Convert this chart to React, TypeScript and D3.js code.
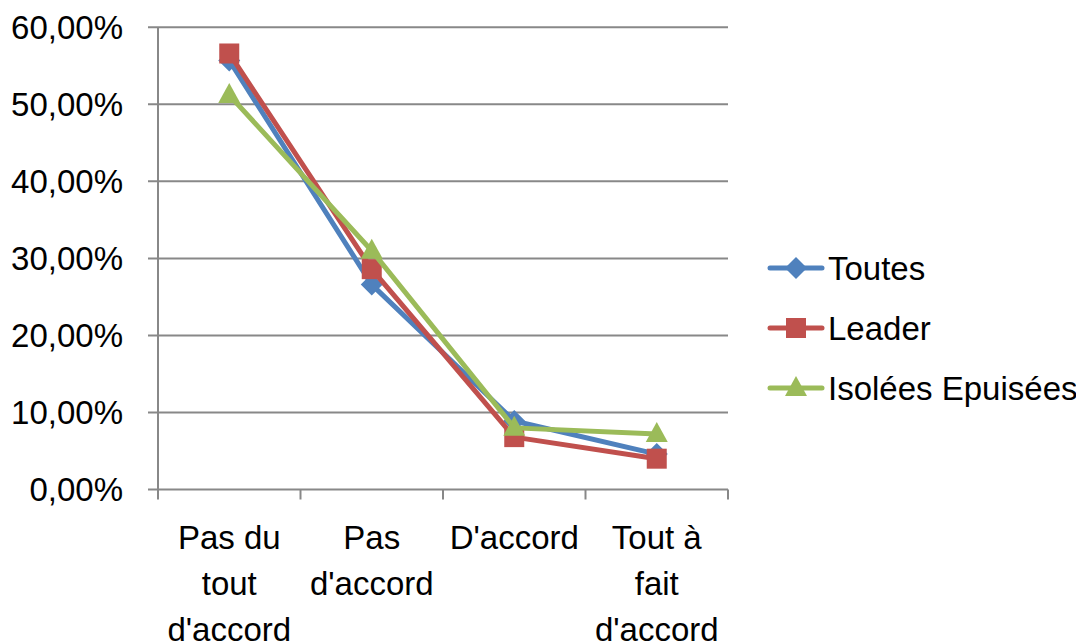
import React from "react";
import * as d3 from "d3";

const categories = [["Pas du", "tout", "d'accord"], ["Pas", "d'accord"], ["D'accord"], ["Tout à", "fait", "d'accord"]];
const seriesNames = ["Toutes", "Leader", "Isolées Epuisées"];
const toutes = [0.557, 0.266, 0.089, 0.046];
const leader = [0.566, 0.286, 0.068, 0.040];
const isolees = [0.512, 0.310, 0.080, 0.072];
const yTicks = [0, 0.1, 0.2, 0.3, 0.4, 0.5, 0.6];
const colors = ["#4F81BD", "#C0504D", "#9BBB59"];
const markers = ["diamond", "square", "triangle"];

const FONT = "'Liberation Sans', Arial, sans-serif";

function Marker({ type, x, y, color }: { type: string; x: number; y: number; color: string }) {
  if (type === "square") return <rect x={x - 10} y={y - 10} width={20} height={20} fill={color} />;
  if (type === "diamond") return <path d={`M${x},${y - 11}L${x + 11},${y}L${x},${y + 11}L${x - 11},${y}Z`} fill={color} />;
  return <path d={`M${x},${y - 12}L${x + 11},${y + 8}L${x - 11},${y + 8}Z`} fill={color} />;
}

export default function App() {
  const W = 1076, H = 643;
  const left = 158, right = 728, top = 27.3, bottom = 489.5;
  const x = d3.scaleBand().domain(categories.map((_, i) => String(i))).range([left, right]);
  const y = d3.scaleLinear().domain([0, 0.6]).range([bottom, top]);
  const data = [toutes, leader, isolees];
  const line = d3.line<number>().x((_, i) => x(String(i))! + x.bandwidth() / 2).y((d) => y(d));
  const fmt = (v: number) => (v * 100).toFixed(2).replace(".", ",") + "%";
  const ticksX = d3.range(categories.length + 1).map((i) => left + i * x.step());
  return (
    <svg width={W} height={H} style={{ position: "absolute", left: 0, top: 0 }} fontFamily={FONT}>
      <rect width={W} height={H} fill="#fff" />
      {yTicks.map((t) => (
        <g key={t}>
          <line x1={left - 10} x2={right} y1={y(t)} y2={y(t)} stroke="#888" strokeWidth={2} />
          <text x={123} y={y(t)} dy="0.35em" textAnchor="end" fontSize={33} fill="#000">{fmt(t)}</text>
        </g>
      ))}
      <line x1={left} x2={left} y1={top} y2={bottom} stroke="#888" strokeWidth={2} />
      {ticksX.map((tx, i) => (
        <line key={i} x1={tx} x2={tx} y1={bottom} y2={bottom + 10} stroke="#888" strokeWidth={2} />
      ))}
      {categories.map((lines, i) => (
        <text key={i} x={x(String(i))! + x.bandwidth() / 2} textAnchor="middle" fontSize={33} fill="#000">
          {lines.map((l, j) => (
            <tspan key={j} x={x(String(i))! + x.bandwidth() / 2} y={549 + j * 46}>{l}</tspan>
          ))}
        </text>
      ))}
      {data.map((s, si) => (
        <g key={si}>
          <path d={line(s)!} fill="none" stroke={colors[si]} strokeWidth={5} strokeLinejoin="round" strokeLinecap="round" />
          {s.map((v, i) => (
            <Marker key={i} type={markers[si]} x={x(String(i))! + x.bandwidth() / 2} y={y(v)} color={colors[si]} />
          ))}
        </g>
      ))}
      {seriesNames.map((n, i) => {
        const ly = 268 + i * 60;
        return (
          <g key={n}>
            <line x1={770} x2={822} y1={ly} y2={ly} stroke={colors[i]} strokeWidth={5} strokeLinecap="round" />
            <Marker type={markers[i]} x={796} y={ly} color={colors[i]} />
            <text x={828} y={ly} dy="0.35em" fontSize={33} fill="#000">{n}</text>
          </g>
        );
      })}
    </svg>
  );
}
